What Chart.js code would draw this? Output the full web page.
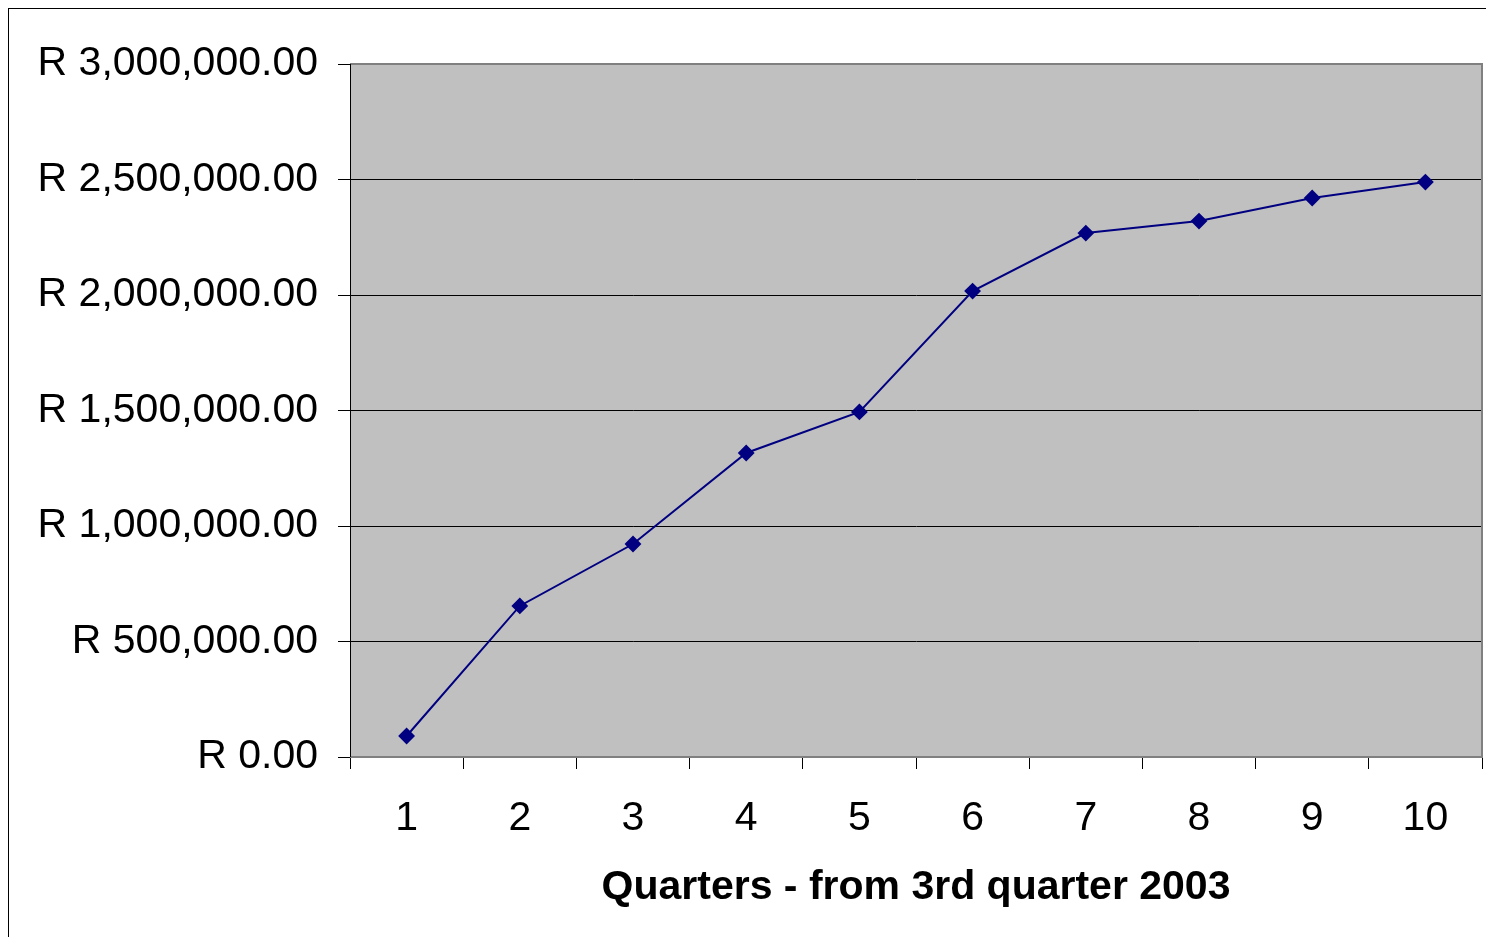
<!DOCTYPE html>
<html>
<head>
<meta charset="utf-8">
<script src="https://cdn.jsdelivr.net/npm/chart.js@4/dist/chart.umd.min.js"></script>
<style>
  html, body { margin: 0; padding: 0; background: #fff; }
  #wrap { position: relative; width: 1486px; height: 937px; }
</style>
</head>
<body>
<div id="wrap"><canvas id="chart" width="1486" height="937"></canvas></div>
<script>
// data
const quarters = ['1', '2', '3', '4', '5', '6', '7', '8', '9', '10'];
const totals = [91000, 654000, 922000, 1316000, 1494000, 2017000, 2268000, 2320000, 2420000, 2489000];
const yTicks = [0, 500000, 1000000, 1500000, 2000000, 2500000, 3000000];
const xTitle = 'Quarters - from 3rd quarter 2003';

const FONT = '"Liberation Sans", Arial, sans-serif';

// gray plot area + frame
const frame = {
    id: 'frame',
    beforeDraw(chart) {
        const { ctx, chartArea: a } = chart;
        ctx.save();
        ctx.fillStyle = '#ffffff';
        ctx.fillRect(0, 0, chart.width, chart.height);
        ctx.strokeStyle = '#000000';
        ctx.lineWidth = 1;
        ctx.strokeRect(8.5, 8.5, chart.width + 20, chart.height + 20);
        ctx.fillStyle = '#c0c0c0';
        ctx.fillRect(a.left, a.top, a.right - a.left, a.bottom - a.top);
        ctx.restore();
    },
    afterDraw(chart) {
        const { ctx, chartArea: a } = chart;
        ctx.save();
        ctx.strokeStyle = '#808080';
        ctx.lineWidth = 2;
        ctx.beginPath();
        ctx.moveTo(a.left, a.top);
        ctx.lineTo(a.right, a.top);
        ctx.lineTo(a.right, a.bottom);
        ctx.lineTo(a.left, a.bottom);
        ctx.stroke();
        ctx.strokeStyle = '#000000';
        ctx.lineWidth = 1;
        ctx.beginPath();
        ctx.moveTo(a.left + 0.5, a.top);
        ctx.lineTo(a.left + 0.5, a.bottom);
        ctx.stroke();
        ctx.restore();
    }
};

new Chart(document.getElementById('chart').getContext('2d'), {
    type: 'line',
    data: {
        labels: quarters,
        datasets: [{
            data: totals,
            borderColor: '#000080',
            backgroundColor: '#000080',
            borderWidth: 2,
            pointStyle: 'rectRot',
            pointRadius: 7,
            pointHoverRadius: 7,
            tension: 0
        }]
    },
    options: {
        responsive: false,
        animation: false,
        layout: { autoPadding: false, padding: { top: 64, right: 4, left: 0, bottom: 21 } },
        plugins: { legend: { display: false }, tooltip: { enabled: false } },
        scales: {
            x: {
                offset: true,
                grid: { offset: true, drawOnChartArea: false, color: '#000000', tickLength: 12 },
                border: { color: '#000000', width: 1 },
                ticks: { color: '#000000', font: { family: FONT, size: 41 }, padding: 25, maxRotation: 0 },
                title: { display: true, text: xTitle, color: '#000000', font: { family: FONT, size: 41, weight: 'bold' }, padding: { top: 8 } },
                afterFit(scale) { scale.height = 159; }
            },
            y: {
                min: 0,
                max: 3000000,
                afterBuildTicks(scale) { scale.ticks = yTicks.map(v => ({ value: v })); },
                grid: { color: '#000000', tickLength: 12 },
                border: { color: '#000000' },
                ticks: {
                    color: '#000000',
                    font: { family: FONT, size: 41 },
                    padding: 20,
                    callback: v => 'R ' + Number(v).toLocaleString('en-US', { minimumFractionDigits: 2, maximumFractionDigits: 2 })
                },
                afterFit(scale) { scale.width = 350; }
            }
        }
    },
    plugins: [frame]
});
</script>
</body>
</html>
